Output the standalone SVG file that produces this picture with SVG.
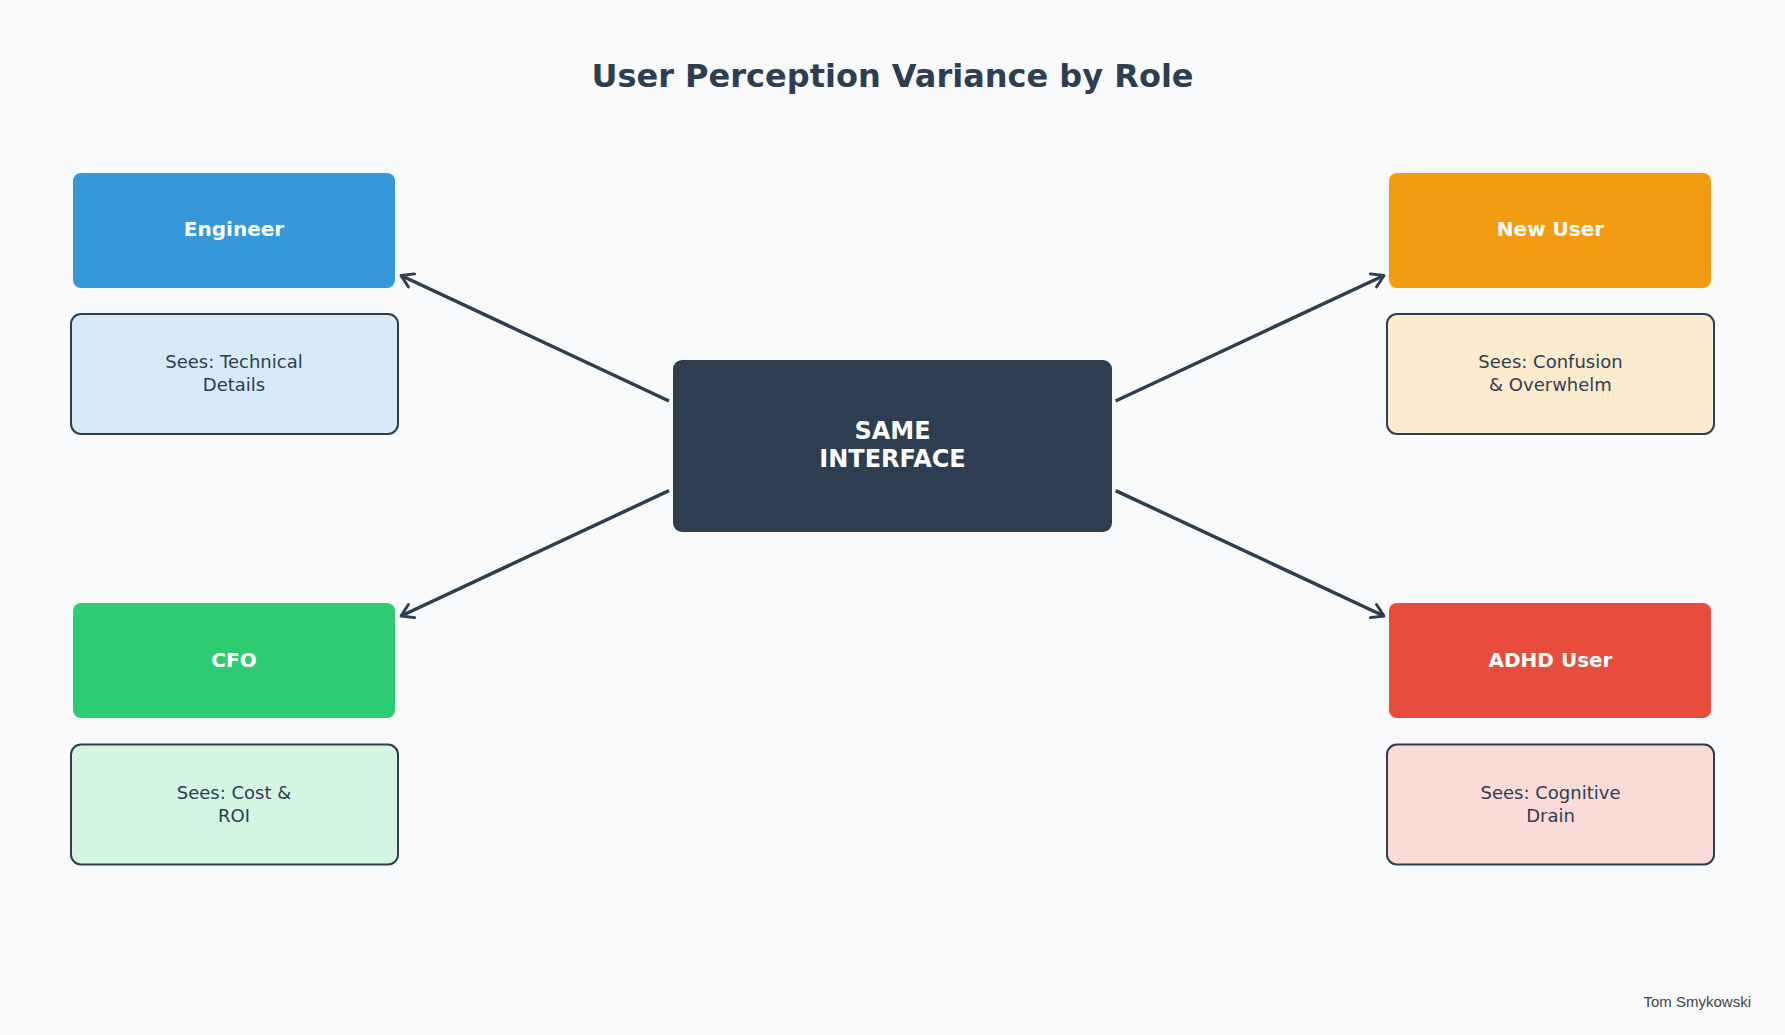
<svg xmlns="http://www.w3.org/2000/svg" width="1785" height="1035" viewBox="0 0 1785 1035">
<style>
text{font-family:"DejaVu Sans","Noto Sans",sans-serif;text-anchor:middle}
.role{font-size:20px;font-weight:bold;fill:#fff}
.sees{font-size:18px;fill:#2c3e50}
.sb{stroke:#2c3e50;stroke-width:2}
.conn{stroke:#2c3e50;stroke-width:3.5;fill:none;marker-end:url(#ah)}
</style>
<defs>
<marker id="ah" viewBox="0 0 12 12" refX="10" refY="6" markerWidth="5" markerHeight="5" markerUnits="strokeWidth" orient="auto">
<path d="M2,1 L10,6 L2,11" fill="none" stroke="#2c3e50" stroke-width="2" stroke-linecap="round" stroke-linejoin="round"/>
</marker>
</defs>
<rect width="1785" height="1035" fill="#f9fafb"/>
<text x="892.5" y="87" font-size="32" font-weight="bold" fill="#2c3e50">User Perception Variance by Role</text>
<g id="connectors">
<line class="conn" x1="669" y1="401" x2="401" y2="275.5"/>
<line class="conn" x1="1115.6" y1="401" x2="1384" y2="275.5"/>
<line class="conn" x1="669" y1="490.6" x2="401" y2="616"/>
<line class="conn" x1="1115.6" y1="490.6" x2="1384" y2="616"/>
</g>
<g id="center">
<rect x="673" y="360" width="439" height="172" rx="9" fill="#2c3e50"/>
<text x="892.5" y="439" font-size="24" font-weight="bold" fill="#fff">SAME</text>
<text x="892.5" y="467" font-size="24" font-weight="bold" fill="#fff">INTERFACE</text>
</g>
<g id="engineer">
<rect x="73" y="173" width="322" height="115" rx="8" fill="#3498db"/>
<text class="role" x="234" y="236">Engineer</text>
</g>
<g id="engineer-sees">
<rect class="sb" x="71" y="314" width="327" height="120" rx="10" fill="#d6eaf8"/>
<text class="sees" x="234" y="368">Sees: Technical</text>
<text class="sees" x="234" y="391">Details</text>
</g>
<g id="newuser">
<rect x="1389" y="173" width="322" height="115" rx="8" fill="#f39c12"/>
<text class="role" x="1550.5" y="236">New User</text>
</g>
<g id="newuser-sees">
<rect class="sb" x="1387" y="314" width="327" height="120" rx="10" fill="#fdebd0"/>
<text class="sees" x="1550.5" y="368">Sees: Confusion</text>
<text class="sees" x="1550.5" y="391">&amp; Overwhelm</text>
</g>
<g id="cfo">
<rect x="73" y="603" width="322" height="115" rx="8" fill="#2ecc71"/>
<text class="role" x="234" y="667">CFO</text>
</g>
<g id="cfo-sees">
<rect class="sb" x="71" y="744.5" width="327" height="120" rx="10" fill="#d5f5e3"/>
<text class="sees" x="234" y="799">Sees: Cost &amp;</text>
<text class="sees" x="234" y="822">ROI</text>
</g>
<g id="adhd">
<rect x="1389" y="603" width="322" height="115" rx="8" fill="#e74c3c"/>
<text class="role" x="1550.5" y="667">ADHD User</text>
</g>
<g id="adhd-sees">
<rect class="sb" x="1387" y="744.5" width="327" height="120" rx="10" fill="#fadbd8"/>
<text class="sees" x="1550.5" y="799">Sees: Cognitive</text>
<text class="sees" x="1550.5" y="822">Drain</text>
</g>
<text x="1751" y="1007" font-size="15" fill="#444" style="text-anchor:end;font-family:'Liberation Sans',sans-serif">Tom Smykowski</text>
</svg>
